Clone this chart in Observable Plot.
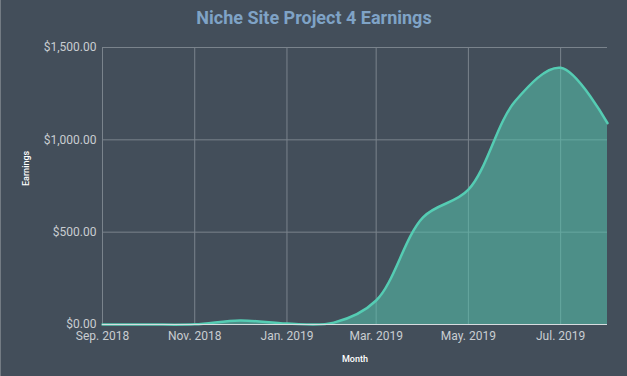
<!DOCTYPE html>
<html>
<head>
<meta charset="utf-8">
<script src="https://cdn.jsdelivr.net/npm/d3@7"></script>
<script src="https://cdn.jsdelivr.net/npm/@observablehq/plot@0.6"></script>
<style>
  html, body { margin: 0; padding: 0; background: #434e5a; }
  #wrap { width: 626px; height: 376px; background: #434e5a; border-left: 1px solid #737b83; font-family: Roboto, sans-serif; overflow: hidden; }
  #title { height: 36px; line-height: 36px; text-align: center; color: #7fa3c6; font-weight: bold; font-size: 18px; font-family: Roboto, sans-serif; }
</style>
</head>
<body>
<div id="wrap">
  <div id="title">Niche Site Project 4 Earnings</div>
  <div id="chart"></div>
</div>
<script>
const months = ["2018-09-01","2018-10-01","2018-11-01","2018-12-01","2019-01-01","2019-02-01","2019-03-01","2019-04-01","2019-05-01","2019-06-01","2019-07-01","2019-08-01"];
const earnings = [0, 0, 1, 22, 5, 10, 130, 580, 730, 1210, 1390, 1090];
const xTickDates = ["2018-09-01","2018-11-01","2019-01-01","2019-03-01","2019-05-01","2019-07-01"];
const xTickLabels = ["Sep. 2018","Nov. 2018","Jan. 2019","Mar. 2019","May. 2019","Jul. 2019"];
const yTicks = [0, 500, 1000, 1500];

const data = months.map((m, i) => ({date: new Date(m + "T00:00:00Z"), value: earnings[i]}));
const xt = xTickDates.map(d => new Date(d + "T00:00:00Z"));
const labelFor = new Map(xt.map((d, i) => [+d, xTickLabels[i]]));
const yFmt = d3.format("$,.2f");

const chart = Plot.plot({
  width: 626,
  height: 340,
  marginTop: 11,
  marginBottom: 52,
  marginLeft: 101,
  marginRight: 20,
  style: {background: "transparent", color: "#c9cdd1", fontFamily: "Roboto, sans-serif", fontSize: "12px"},
  x: {type: "utc", domain: [data[0].date, data[data.length - 1].date], ticks: xt, tickFormat: d => labelFor.get(+d), tickSize: 0, tickPadding: 7, label: null},
  y: {domain: [0, 1500], ticks: yTicks, tickFormat: yFmt, tickSize: 0, tickPadding: 6, label: null},
  marks: [
    Plot.gridX(xt, {stroke: "#7a838c", strokeOpacity: 1, strokeWidth: 1}),
    Plot.gridY(yTicks, {stroke: "#7a838c", strokeOpacity: 1, strokeWidth: 1}),
    Plot.areaY(data, {x: "date", y: "value", curve: "catmull-rom", fill: "#56c5ae", fillOpacity: 0.55}),
    Plot.lineY(data, {x: "date", y: "value", curve: "catmull-rom", stroke: "#55ccb3", strokeWidth: 2.5}),
    Plot.ruleY([0], {stroke: "#d8dcdf", strokeWidth: 1}),
    Plot.axisX({ticks: xt, tickFormat: d => labelFor.get(+d), tickSize: 0, tickPadding: 7, label: null, fontSize: 12}),
    Plot.axisY({ticks: yTicks, tickFormat: yFmt, tickSize: 0, tickPadding: 6, label: null, fontSize: 12}),
    Plot.text(["Earnings"], {frameAnchor: "left", dx: -76, rotate: -90, fill: "#ffffff", fontSize: 9, fontWeight: 500}),
    Plot.text(["Month"], {frameAnchor: "bottom", dy: 37, fill: "#ffffff", fontSize: 9, fontWeight: 500})
  ]
});
document.getElementById("chart").appendChild(chart);
</script>
</body>
</html>
